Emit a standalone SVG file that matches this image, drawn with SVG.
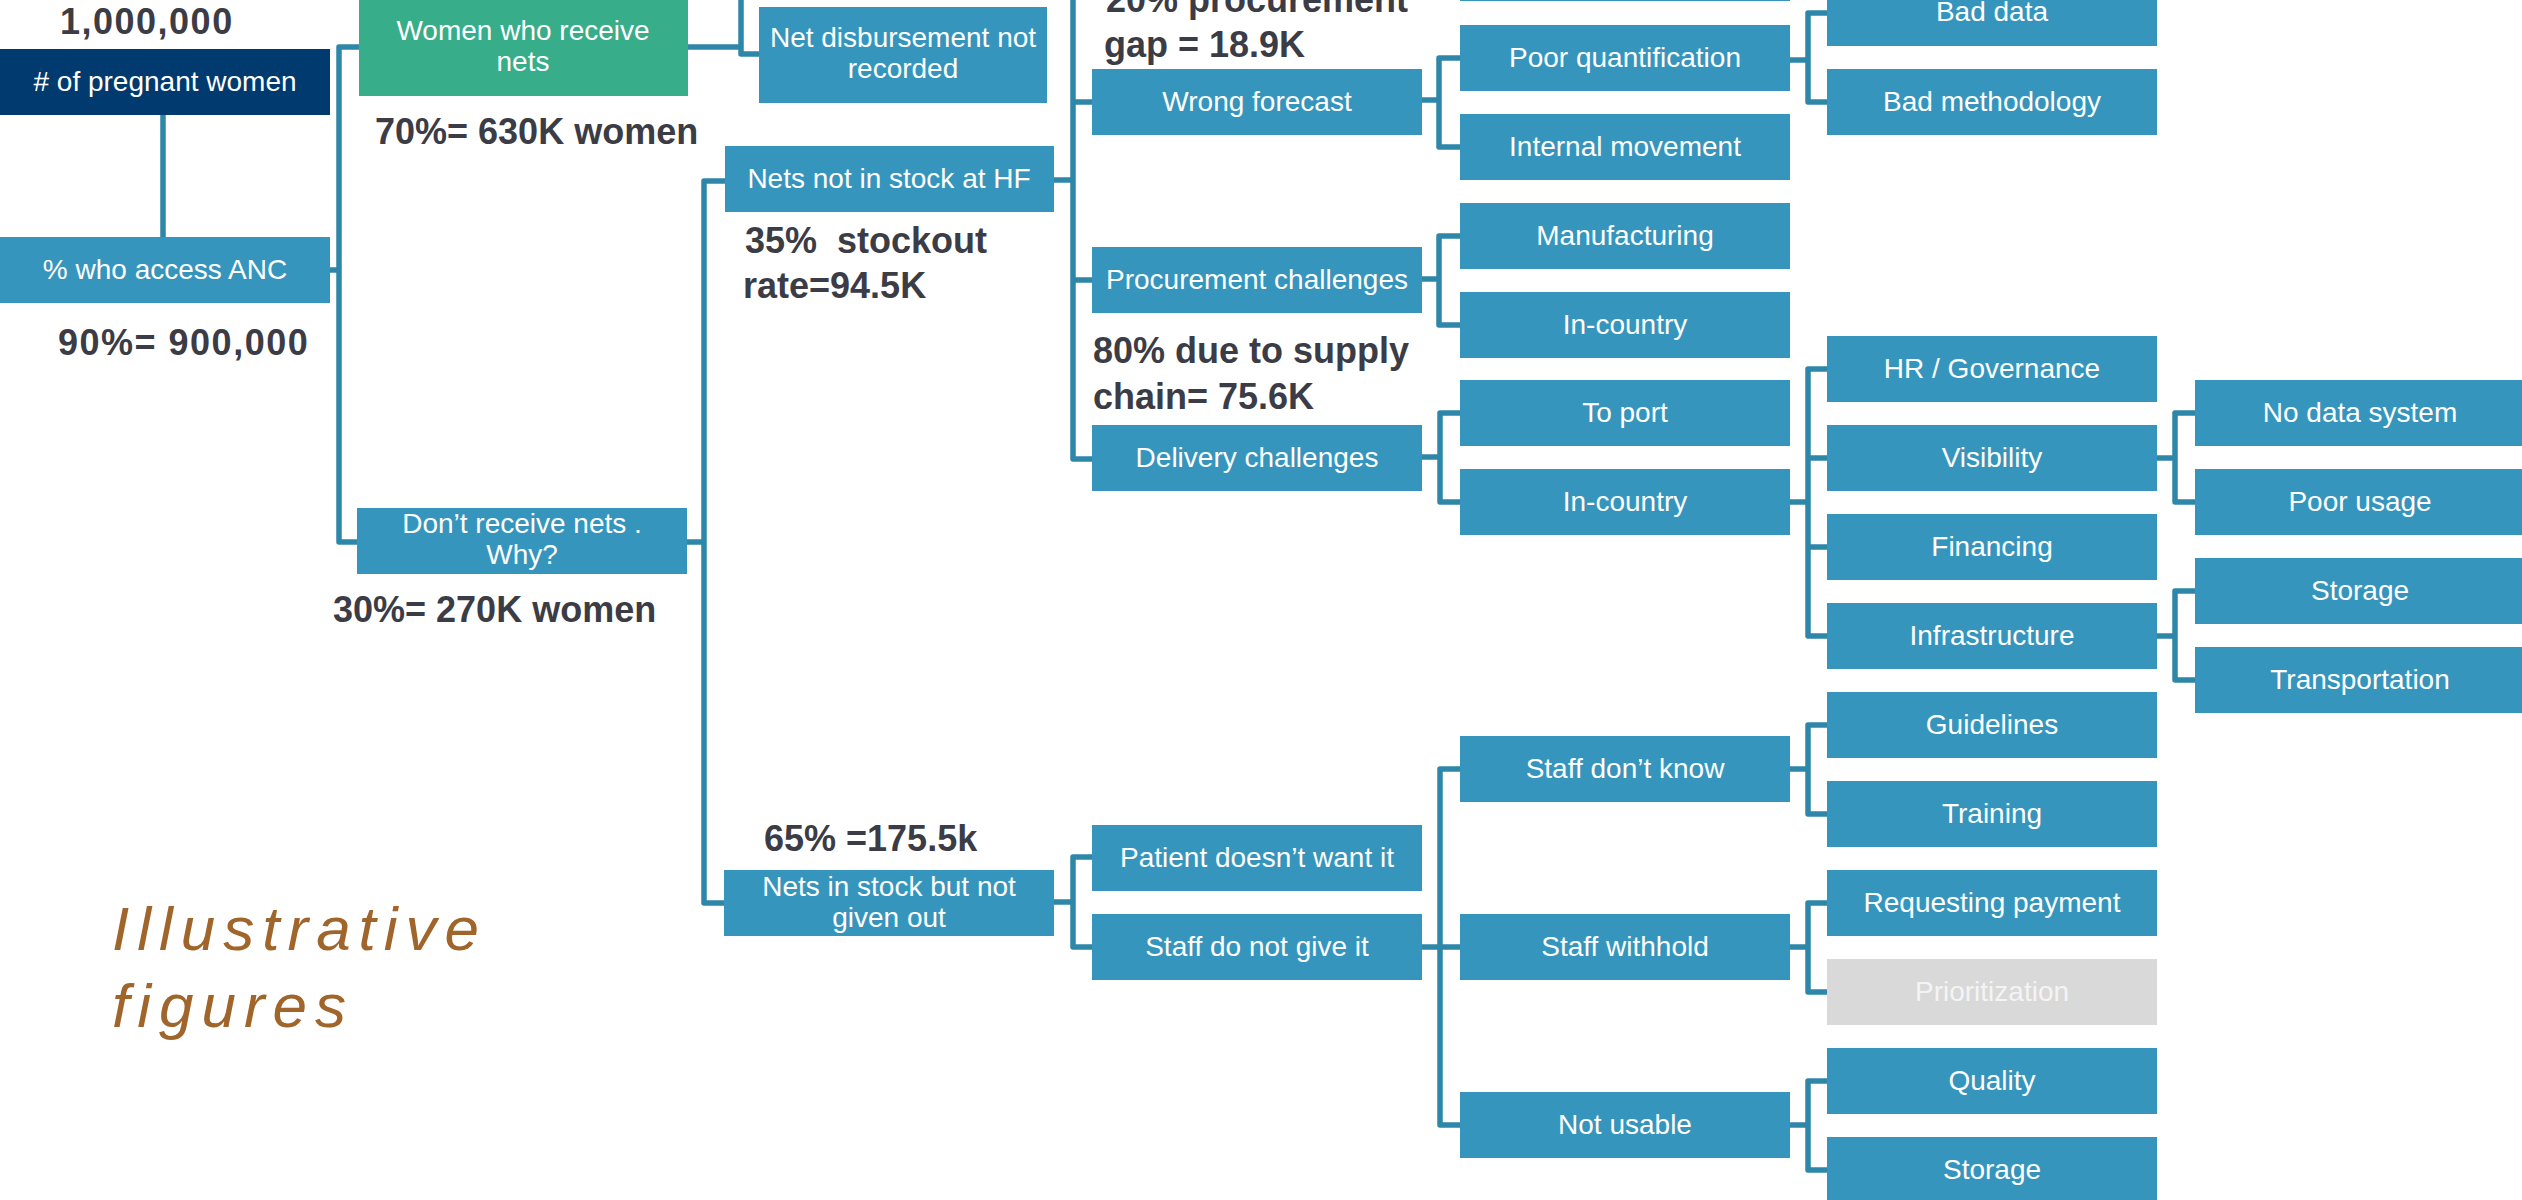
<svg xmlns="http://www.w3.org/2000/svg" width="2522" height="1200" viewBox="0 0 2522 1200">
  <style>
    .box { fill: #3695BC; }
    .navy { fill: #013A6F; }
    .green { fill: #37AD8A; }
    .grey { fill: #D9D9D9; }
    .lbl { font-family: "Liberation Sans", Arial, sans-serif; font-size: 28px; fill: #FFFFFF; text-anchor: middle; }
    .lbl-dim { fill: #F4F4F4; }
    .fig { font-family: "Liberation Sans", Arial, sans-serif; font-size: 36px; font-weight: bold; fill: #3B3C45; white-space: pre; }
    .num { letter-spacing: 1.5px; }
    .note { font-family: "Liberation Sans", Arial, sans-serif; font-size: 62px; font-style: italic; letter-spacing: 8px; fill: #A0652A; }
    .conn path { fill: none; stroke: #2E86A8; stroke-width: 5.5; stroke-linejoin: round; stroke-linecap: butt; }
  </style>

  <rect width="2522" height="1200" fill="#FFFFFF"/>

  <!-- connectors -->
  <g id="connectors" class="conn">
    <path d="M163,115 V237"/>
    <path d="M330,270 H339"/>
    <path d="M359,47 H339 V542 H357"/>
    <path d="M688,47 H741"/>
    <path d="M741,-5 V54 H759"/>
    <path d="M687,542 H704"/>
    <path d="M725,181 H704 V903 H724"/>
    <path d="M1054,180 H1073"/>
    <path d="M1073,-5 V459 H1092"/>
    <path d="M1073,102 H1092"/>
    <path d="M1073,280 H1092"/>
    <path d="M1054,902 H1073"/>
    <path d="M1092,857 H1073 V947 H1092"/>
    <path d="M1422,100 H1439"/>
    <path d="M1460,58 H1439 V147 H1460"/>
    <path d="M1422,279 H1439"/>
    <path d="M1460,236 H1439 V325 H1460"/>
    <path d="M1422,457 H1440"/>
    <path d="M1460,413 H1440 V502 H1460"/>
    <path d="M1422,947 H1440"/>
    <path d="M1460,769 H1440 V1125 H1460"/>
    <path d="M1440,947 H1460"/>
    <path d="M1790,60 H1808"/>
    <path d="M1827,13 H1808 V102 H1827"/>
    <path d="M1790,502 H1808"/>
    <path d="M1827,369 H1808 V636 H1827"/>
    <path d="M1808,458 H1827"/>
    <path d="M1808,547 H1827"/>
    <path d="M1790,769 H1808"/>
    <path d="M1827,725 H1808 V814 H1827"/>
    <path d="M1790,947 H1808"/>
    <path d="M1827,903 H1808 V992 H1827"/>
    <path d="M1790,1125 H1808"/>
    <path d="M1827,1081 H1808 V1170 H1827"/>
    <path d="M2157,458 H2175"/>
    <path d="M2195,413 H2175 V502 H2195"/>
    <path d="M2157,636 H2175"/>
    <path d="M2195,591 H2175 V680 H2195"/>
  </g>

  <!-- column 0 -->
  <g id="n-pregnant"><rect class="navy" x="0" y="49" width="330" height="66"/><text class="lbl" x="165" y="91"># of pregnant women</text></g>
  <g id="n-anc"><rect class="box" x="0" y="237" width="330" height="66"/><text class="lbl" x="165" y="279">% who access ANC</text></g>

  <!-- column 1 -->
  <g id="n-receive"><rect class="green" x="359" y="0" width="329" height="96"/><text class="lbl" x="523" y="40">Women who receive</text><text class="lbl" x="523" y="71">nets</text></g>
  <g id="n-dont-receive"><rect class="box" x="357" y="508" width="330" height="66"/><text class="lbl" x="522" y="533">Don’t receive nets .</text><text class="lbl" x="522" y="564">Why?</text></g>

  <!-- column 2 -->
  <g id="n-disbursement"><rect class="box" x="759" y="7" width="288" height="96"/><text class="lbl" x="903" y="47">Net disbursement not</text><text class="lbl" x="903" y="78">recorded</text></g>
  <g id="n-not-in-stock"><rect class="box" x="725" y="146" width="329" height="66"/><text class="lbl" x="889" y="188">Nets not in stock at HF</text></g>
  <g id="n-in-stock"><rect class="box" x="724" y="870" width="330" height="66"/><text class="lbl" x="889" y="896">Nets in stock but not</text><text class="lbl" x="889" y="927">given out</text></g>

  <!-- column 3 -->
  <g id="n-wrong-forecast"><rect class="box" x="1092" y="69" width="330" height="66"/><text class="lbl" x="1257" y="111">Wrong forecast</text></g>
  <g id="n-procurement"><rect class="box" x="1092" y="247" width="330" height="66"/><text class="lbl" x="1257" y="289">Procurement challenges</text></g>
  <g id="n-delivery"><rect class="box" x="1092" y="425" width="330" height="66"/><text class="lbl" x="1257" y="467">Delivery challenges</text></g>
  <g id="n-patient"><rect class="box" x="1092" y="825" width="330" height="66"/><text class="lbl" x="1257" y="867">Patient doesn’t want it</text></g>
  <g id="n-staff-not-give"><rect class="box" x="1092" y="914" width="330" height="66"/><text class="lbl" x="1257" y="956">Staff do not give it</text></g>

  <!-- column 4 -->
  <g id="n-col4-top"><rect class="box" x="1460" y="-65" width="330" height="66"/></g>
  <g id="n-poor-quant"><rect class="box" x="1460" y="25" width="330" height="66"/><text class="lbl" x="1625" y="67">Poor quantification</text></g>
  <g id="n-internal"><rect class="box" x="1460" y="114" width="330" height="66"/><text class="lbl" x="1625" y="156">Internal movement</text></g>
  <g id="n-manufacturing"><rect class="box" x="1460" y="203" width="330" height="66"/><text class="lbl" x="1625" y="245">Manufacturing</text></g>
  <g id="n-in-country-proc"><rect class="box" x="1460" y="292" width="330" height="66"/><text class="lbl" x="1625" y="334">In-country</text></g>
  <g id="n-to-port"><rect class="box" x="1460" y="380" width="330" height="66"/><text class="lbl" x="1625" y="422">To port</text></g>
  <g id="n-in-country-del"><rect class="box" x="1460" y="469" width="330" height="66"/><text class="lbl" x="1625" y="511">In-country</text></g>
  <g id="n-staff-dont-know"><rect class="box" x="1460" y="736" width="330" height="66"/><text class="lbl" x="1625" y="778">Staff don’t know</text></g>
  <g id="n-staff-withhold"><rect class="box" x="1460" y="914" width="330" height="66"/><text class="lbl" x="1625" y="956">Staff withhold</text></g>
  <g id="n-not-usable"><rect class="box" x="1460" y="1092" width="330" height="66"/><text class="lbl" x="1625" y="1134">Not usable</text></g>

  <!-- column 5 -->
  <g id="n-bad-data"><rect class="box" x="1827" y="-20" width="330" height="66"/><text class="lbl" x="1992" y="21">Bad data</text></g>
  <g id="n-bad-method"><rect class="box" x="1827" y="69" width="330" height="66"/><text class="lbl" x="1992" y="111">Bad methodology</text></g>
  <g id="n-hr"><rect class="box" x="1827" y="336" width="330" height="66"/><text class="lbl" x="1992" y="378">HR / Governance</text></g>
  <g id="n-visibility"><rect class="box" x="1827" y="425" width="330" height="66"/><text class="lbl" x="1992" y="467">Visibility</text></g>
  <g id="n-financing"><rect class="box" x="1827" y="514" width="330" height="66"/><text class="lbl" x="1992" y="556">Financing</text></g>
  <g id="n-infrastructure"><rect class="box" x="1827" y="603" width="330" height="66"/><text class="lbl" x="1992" y="645">Infrastructure</text></g>
  <g id="n-guidelines"><rect class="box" x="1827" y="692" width="330" height="66"/><text class="lbl" x="1992" y="734">Guidelines</text></g>
  <g id="n-training"><rect class="box" x="1827" y="781" width="330" height="66"/><text class="lbl" x="1992" y="823">Training</text></g>
  <g id="n-payment"><rect class="box" x="1827" y="870" width="330" height="66"/><text class="lbl" x="1992" y="912">Requesting payment</text></g>
  <g id="n-prioritization"><rect class="grey" x="1827" y="959" width="330" height="66"/><text class="lbl lbl-dim" x="1992" y="1001">Prioritization</text></g>
  <g id="n-quality"><rect class="box" x="1827" y="1048" width="330" height="66"/><text class="lbl" x="1992" y="1090">Quality</text></g>
  <g id="n-storage-b"><rect class="box" x="1827" y="1137" width="330" height="66"/><text class="lbl" x="1992" y="1179">Storage</text></g>

  <!-- column 6 -->
  <g id="n-no-data"><rect class="box" x="2195" y="380" width="330" height="66"/><text class="lbl" x="2360" y="422">No data system</text></g>
  <g id="n-poor-usage"><rect class="box" x="2195" y="469" width="330" height="66"/><text class="lbl" x="2360" y="511">Poor usage</text></g>
  <g id="n-storage-a"><rect class="box" x="2195" y="558" width="330" height="66"/><text class="lbl" x="2360" y="600">Storage</text></g>
  <g id="n-transport"><rect class="box" x="2195" y="647" width="330" height="66"/><text class="lbl" x="2360" y="689">Transportation</text></g>

  <!-- figures -->
  <g id="figures">
    <text class="fig num" x="60" y="34">1,000,000</text>
    <text class="fig num" x="58" y="355">90%= 900,000</text>
    <text class="fig" x="375" y="144">70%= 630K women</text>
    <text class="fig" x="333" y="622">30%= 270K women</text>
    <text class="fig" x="745" y="253">35%  stockout</text>
    <text class="fig" x="743" y="298">rate=94.5K</text>
    <text class="fig" x="1106" y="12">20% procurement</text>
    <text class="fig" x="1104" y="57">gap = 18.9K</text>
    <text class="fig" x="1093" y="363">80% due to supply</text>
    <text class="fig" x="1093" y="409">chain= 75.6K</text>
    <text class="fig" x="764" y="851">65% =175.5k</text>
  </g>

  <g id="note">
    <text class="note" x="112" y="950">Illustrative</text>
    <text class="note" x="112" y="1027">figures</text>
  </g>
</svg>
